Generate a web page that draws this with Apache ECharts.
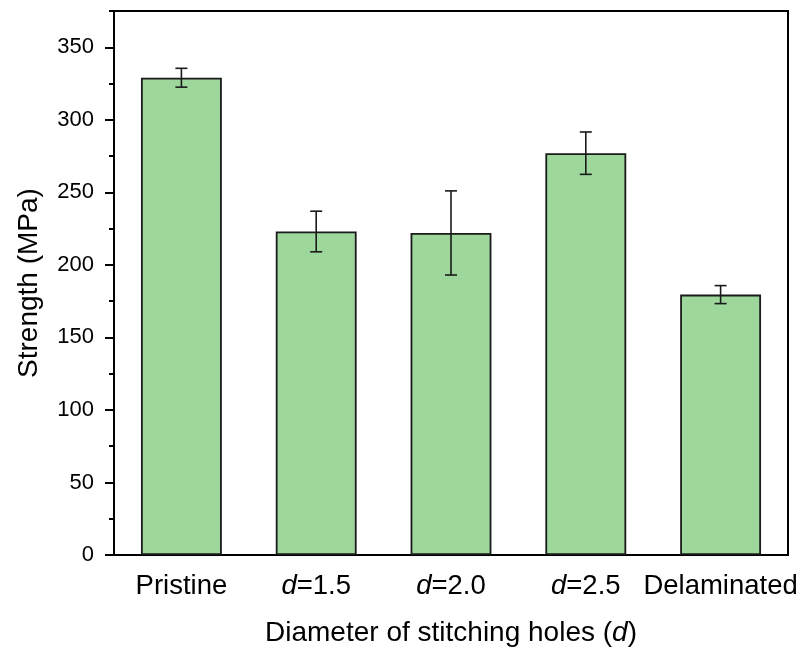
<!DOCTYPE html>
<html>
<head>
<meta charset="utf-8">
<script src="https://cdn.jsdelivr.net/npm/echarts@6/dist/echarts.min.js"></script>
<style>html,body{margin:0;padding:0;background:#fff}#c{width:802px;height:649px}</style>
</head>
<body>
<div id="c"></div>
<script>
var categories = ['Pristine', 'd=1.5', 'd=2.0', 'd=2.5', 'Delaminated'];
var strength = [329, 223, 222, 277, 179.5];
var errors = [6.5, 14, 29, 14.6, 6.2];
var majorTicks = [0, 50, 100, 150, 200, 250, 300, 350];
var minorTicks = [25, 75, 125, 175, 225, 275, 325, 375];
var yMin = 0, yMax = 375;

var FONT = '"Liberation Sans", Arial, sans-serif';
var errData = categories.map(function (c, i) {
  return [i, strength[i] - errors[i], strength[i] + errors[i]];
});

function catLabel(v) {
  if (v.indexOf('d=') === 0) return '{i|d}{n|' + v.slice(1) + '}';
  return '{n|' + v + '}';
}

var chart = echarts.init(document.getElementById('c'));
chart.setOption({
  animation: false,
  backgroundColor: '#fff',
  grid: {left: 114, right: 14, top: 11, bottom: 94, outerBoundsMode: 'none', containLabel: false,
         show: true, borderColor: '#000', borderWidth: 2, backgroundColor: 'transparent'},
  xAxis: {
    type: 'category',
    data: categories,
    axisLine: {lineStyle: {color: '#000', width: 2}},
    axisTick: {alignWithLabel: true, length: 8, lineStyle: {color: '#000', width: 2}},
    axisLabel: {
      margin: 17,
      formatter: catLabel,
      rich: {
        i: {fontSize: 27.5, fontStyle: 'italic', fontFamily: FONT, color: '#000'},
        n: {fontSize: 27.5, fontFamily: FONT, color: '#000'}
      }
    },
    name: '{n|Diameter of stitching holes (}{i|d}{n|)}',
    nameLocation: 'middle',
    nameGap: 64,
    nameTextStyle: {
      rich: {
        i: {fontSize: 28, fontStyle: 'italic', fontFamily: FONT, color: '#000'},
        n: {fontSize: 28, fontFamily: FONT, color: '#000'}
      }
    }
  },
  yAxis: [{
    type: 'value',
    min: yMin, max: yMax,
    interval: 25,
    splitLine: {show: false},
    axisLine: {show: true, lineStyle: {color: '#000', width: 2}},
    axisTick: {show: true, length: 9, lineStyle: {color: '#000', width: 2}, customValues: majorTicks},
    axisLabel: {customValues: majorTicks, fontSize: 22, fontFamily: FONT, color: '#000', margin: 20},
    name: 'Strength (MPa)',
    nameLocation: 'middle',
    nameGap: 71,
    nameTextStyle: {fontSize: 28, fontFamily: FONT, color: '#000'}
  }, {
    type: 'value',
    position: 'left',
    min: yMin, max: yMax,
    interval: 25,
    splitLine: {show: false},
    axisLine: {show: false},
    axisTick: {show: true, length: 5, lineStyle: {color: '#000', width: 2}, customValues: minorTicks},
    axisLabel: {show: false}
  }],
  series: [{
    type: 'bar',
    data: strength,
    barWidth: '60%',
    itemStyle: {color: '#9ed79c', borderColor: '#1a1a1a', borderWidth: 1.8},
    z: 2
  }, {
    type: 'custom',
    data: errData,
    z: 3,
    renderItem: function (params, api) {
      var lo = api.coord([api.value(0), api.value(1)]);
      var hi = api.coord([api.value(0), api.value(2)]);
      var hw = 6;
      var st = {stroke: '#1a1a1a', lineWidth: 1.6};
      return {type: 'group', children: [
        {type: 'line', shape: {x1: hi[0], y1: hi[1], x2: lo[0], y2: lo[1]}, style: st},
        {type: 'line', shape: {x1: hi[0] - hw, y1: hi[1], x2: hi[0] + hw, y2: hi[1]}, style: st},
        {type: 'line', shape: {x1: lo[0] - hw, y1: lo[1], x2: lo[0] + hw, y2: lo[1]}, style: st}
      ]};
    }
  }]
});
</script>
</body>
</html>
